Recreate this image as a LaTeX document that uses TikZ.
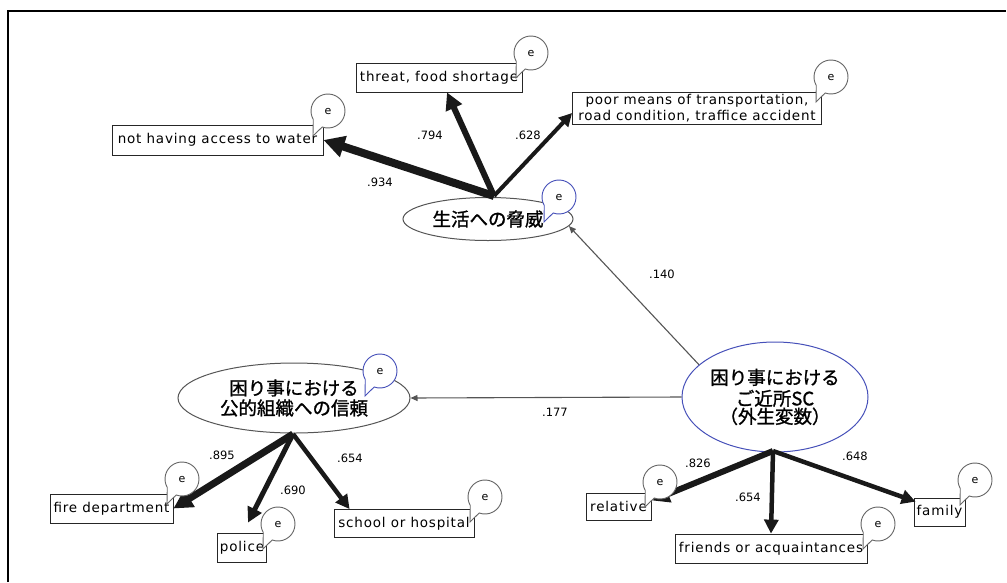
\documentclass[tikz,border=0pt]{standalone}
\usepackage{fontspec}
\setmainfont[LetterSpace=6]{DejaVu Sans}
\newfontfamily\coeffont{DejaVu Sans}
\newfontfamily\jpfont[FakeBold=1.2]{Noto Sans CJK JP}
\usetikzlibrary{arrows.meta,calc,shapes.geometric}
\definecolor{amosblue}{RGB}{70,80,185}
\definecolor{edgegray}{RGB}{85,85,85}
\newcommand\ebub[4]{%
  \node[bubtext] (#1) at (#2,#3) {};
  \draw[#4, line width=0.9, fill=white] ($(#1.center)+(150:17)$) arc[start angle=150, end angle=470, radius=17] -- ($(#1.center)+(-15,25)$) -- cycle;
  \node[bubtext] at (#1.center) {e};}
\begin{document}
\begin{tikzpicture}[x=1pt,y=-1pt,
  obs/.style={draw=black!85, line width=0.8, fill=white, inner sep=1pt, font=\fontsize{13.5}{17}\selectfont},
  lat/.style={ellipse, draw=edgegray, line width=1, fill=white, inner sep=0pt, align=center, font=\jpfont\fontsize{18.5}{23}\selectfont},
  bubtext/.style={circle, inner sep=0pt, minimum size=34pt, font=\coeffont\fontsize{11}{12}\selectfont},
  load/.style={line width=#1, draw=black!90, -{Triangle[length=5pt 2, width=5pt 2]}},
  path/.style={line width=1.1, draw=edgegray, -{Triangle[length=7pt, width=6pt]}},
  coef/.style={font=\coeffont\fontsize{11.5}{13}\selectfont}]
\useasboundingbox (0,0) rectangle (1007,582);
\draw[line width=2] (8,582) -- (8,11) -- (1006,11);

% latent variables
\node[lat, minimum width=170, minimum height=43] (life) at (488,219) {生活への脅威};
\node[lat, minimum width=232, minimum height=70] (pub) at (294,398) {困り事における\\[-3pt]公的組織への信頼};
\node[lat, draw=amosblue, minimum width=186, minimum height=110] (sc) at (775,397) {困り事における\\[-2pt]ご近所SC\\[-5pt]（外生変数）};

% observed variables
\node[obs, minimum width=211, minimum height=30] (water) at (217.5,140) {not having access to water};
\node[obs, minimum width=166, minimum height=29] (threat) at (439,77.5) {threat, food shortage};
\node[obs, minimum width=249, minimum height=32, inner sep=0pt, align=center, font=\fontsize{13.5}{15.5}\selectfont] (poor) at (697,108) {poor means of transportation,\\road condition, traffice accident};
\node[obs, minimum width=123, minimum height=29] (fire) at (111.5,508.5) {fire department};
\node[obs, minimum width=49, minimum height=29] (police) at (242,547.5) {police};
\node[obs, minimum width=140, minimum height=28] (school) at (404,523.5) {school or hospital};
\node[obs, minimum width=65, minimum height=27] (relative) at (618.5,506.5) {relative};
\node[obs, minimum width=192, minimum height=29] (friends) at (771,548.5) {friends or acquaintances};
\node[obs, minimum width=51, minimum height=28] (family) at (939.5,512) {family};

% origins of loadings
\coordinate (lifeO) at (494,196);
\coordinate (pubO) at (293,434);
\coordinate (scO) at (773,451);

% loadings
\draw[load=8] (lifeO) -- (water.east);
\draw[load=6] (lifeO) -- ($(threat.south)+(8,0)$);
\draw[load=4] (lifeO) -- ($(poor.west)+(0,5)$);
\draw[load=7] (pubO) -- (fire.east);
\draw[load=5] (pubO) -- ($(police.north)+(6,-10)$);
\draw[load=4.5] (pubO) -- ($(school.north west)+(16,0)$);
\draw[load=6] (scO) -- ($(relative.east)+(1,-6)$);
\draw[load=4.5] (scO) -- (friends.north);
\draw[load=4.5] (scO) -- ($(family.north west)+(2,4)$);

% structural paths
\draw[path] (sc.157) -- (life.-5);
\draw[path] (sc.west) -- (pub.east);

% coefficients
\node[coef] (c1) at (380,182) {.934};
\node[coef] (c2) at (430,135) {.794};
\node[coef] (c3) at (528,135) {.628};
\node[coef] (c4) at (662,274) {.140};
\node[coef] (c5) at (555,412) {.177};
\node[coef] (c6) at (222,455) {.895};
\node[coef] (c7) at (293,490) {.690};
\node[coef] (c8) at (350,458) {.654};
\node[coef] (c9) at (698,463) {.826};
\node[coef] (c10) at (748,497) {.654};
\node[coef] (c11) at (855,456) {.648};

% error terms
\ebub{e1}{328}{111}{black!60}
\ebub{e2}{531}{53}{black!60}
\ebub{e3}{831}{77}{black!60}
\ebub{e4}{559}{197}{amosblue}
\ebub{e5}{380}{371}{amosblue}
\ebub{e6}{182}{479}{black!60}
\ebub{e7}{278}{524}{black!60}
\ebub{e8}{485}{497}{black!60}
\ebub{e9}{660}{482}{black!60}
\ebub{e10}{878}{524}{black!60}
\ebub{e11}{975}{480}{black!60}
\end{tikzpicture}
\end{document}
